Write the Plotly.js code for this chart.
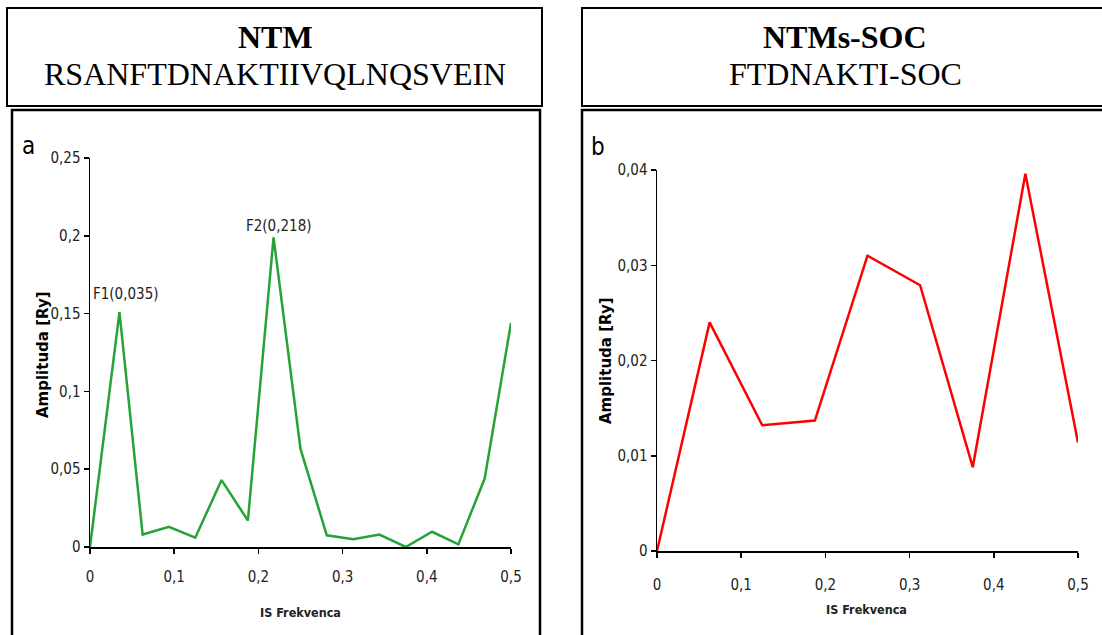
<!DOCTYPE html>
<html>
<head>
<meta charset="utf-8">
<script src="https://cdn.plot.ly/plotly-3.0.1.min.js"></script>
<style>
  html, body { margin: 0; padding: 0; background: #fff; }
  #chart { width: 1102px; height: 635px; }
</style>
</head>
<body>
<div id="chart"></div>
<script>
// Panel a: NTM spectrum
const freqA = [0, 0.035, 0.0625, 0.09375, 0.125, 0.15625, 0.1875, 0.218, 0.25,
               0.28125, 0.3125, 0.34375, 0.375, 0.40625, 0.4375, 0.46875, 0.5];
const ampA  = [0, 0.151, 0.008, 0.013, 0.006, 0.043, 0.017, 0.199, 0.063,
               0.0075, 0.005, 0.008, 0.0, 0.0098, 0.0017, 0.044, 0.144];

// Panel b: NTMs-SOC spectrum
const freqB = [0, 0.0625, 0.125, 0.1875, 0.25, 0.3125, 0.375, 0.4375, 0.5];
const ampB  = [0, 0.024, 0.0132, 0.0137, 0.031, 0.0279, 0.0088, 0.0396, 0.0114];

// Labelled peaks of panel a (index into freqA/ampA)
const peakNames = ['F1', 'F2'];
const peakIndex = [1, 7];

// Header texts
const headA = ['NTM', 'RSANFTDNAKTIIVQLNQSVEIN'];
const headB = ['NTMs-SOC', 'FTDNAKTI-SOC'];
const panelLetters = ['a', 'b'];
const yTitle = 'Amplituda [Ry]';
const xTitle = 'IS Frekvenca';

const W = 1102, H = 635;
const px = v => v / W;          // pixel x -> paper
const py = v => 1 - v / H;      // pixel y -> paper

const narrow = 'DejaVu Sans Condensed, Liberation Sans Narrow, sans-serif';
const serif = 'Liberation Serif, Times New Roman, serif';
const tickFont = { family: narrow, size: 15, color: '#222' };
const fmt = v => String(v).replace('.', ',');

function axisX(domain, anchor, standoff) {
  return {
    domain: domain, anchor: anchor, range: [0, 0.5], dtick: 0.1, tick0: 0,
    showgrid: false, zeroline: false, showline: true, linecolor: '#000', linewidth: 1.5,
    ticks: 'outside', ticklen: 5, tickwidth: 1.5, tickcolor: '#000',
    tickfont: tickFont, ticklabelstandoff: standoff, fixedrange: true
  };
}
function axisY(domain, anchor, range, dtick) {
  return {
    domain: domain, anchor: anchor, range: range, dtick: dtick, tick0: 0,
    showgrid: false, zeroline: false, showline: true, linecolor: '#000', linewidth: 1.5,
    ticks: 'outside', ticklen: 5, tickwidth: 1.5, tickcolor: '#000',
    tickfont: tickFont, ticklabelstandoff: 0, fixedrange: true
  };
}

const traces = [
  { x: freqA, y: ampA, xaxis: 'x', yaxis: 'y', type: 'scatter', mode: 'lines',
    line: { color: '#26a336', width: 2.5 }, cliponaxis: false, hoverinfo: 'skip' },
  { x: freqB, y: ampB, xaxis: 'x2', yaxis: 'y2', type: 'scatter', mode: 'lines',
    line: { color: '#ff0000', width: 2.5 }, cliponaxis: false, hoverinfo: 'skip' }
];

const boxLine = { color: '#000', width: 2 };
const shapes = [
  // header boxes
  { type: 'rect', xref: 'paper', yref: 'paper', x0: px(7), x1: px(542), y0: py(106), y1: py(8), line: boxLine },
  { type: 'rect', xref: 'paper', yref: 'paper', x0: px(582), x1: px(1112), y0: py(106), y1: py(8), line: boxLine },
  // chart frames
  { type: 'rect', xref: 'paper', yref: 'paper', x0: px(12), x1: px(540), y0: py(650), y1: py(110), line: { color: '#000', width: 2.5 } },
  { type: 'rect', xref: 'paper', yref: 'paper', x0: px(582), x1: px(1112), y0: py(650), y1: py(110), line: { color: '#000', width: 2.5 } }
];

function label(x, y, text, font, extra) {
  return Object.assign({ xref: 'paper', yref: 'paper', x: px(x), y: py(y), text: text,
    showarrow: false, xanchor: 'center', yanchor: 'middle', font: font }, extra || {});
}

const headFont = { family: serif, size: 32, color: '#000' };
const letterFont = { family: narrow, size: 24, color: '#000' };
const yTitleFont = { family: 'DejaVu Sans, sans-serif', size: 15, color: '#000' };
const xTitleFont = { family: narrow, size: 12.5, color: '#222' };

const annotations = [
  label(275, 37, '<b>' + headA[0] + '</b>', headFont),
  label(275, 74, headA[1], headFont),
  label(845, 37, '<b>' + headB[0] + '</b>', headFont),
  label(845, 74, headB[1], headFont),
  label(28, 146, panelLetters[0], letterFont),
  label(598, 147, panelLetters[1], letterFont),
  label(43, 355, '<b>' + yTitle + '</b>', yTitleFont, { textangle: -90 }),
  label(606, 361, '<b>' + yTitle + '</b>', yTitleFont, { textangle: -90 }),
  label(300, 612, '<b>' + xTitle + '</b>', xTitleFont),
  label(866, 609, '<b>' + xTitle + '</b>', xTitleFont)
];

// peak labels built from the peak frequencies
const peakShift = [[7, 18], [5, 11]];
peakIndex.forEach((idx, k) => {
  annotations.push({
    xref: 'x', yref: 'y', x: freqA[idx], y: ampA[idx],
    text: peakNames[k] + '(' + fmt(freqA[idx]) + ')',
    showarrow: false, xanchor: 'center', yanchor: 'middle',
    xshift: peakShift[k][0], yshift: peakShift[k][1],
    font: { family: narrow, size: 15, color: '#222' }
  });
});

const layout = {
  width: W, height: H,
  margin: { l: 0, r: 0, t: 0, b: 0 },
  paper_bgcolor: '#fff', plot_bgcolor: 'rgba(0,0,0,0)',
  showlegend: false,
  separators: ', ',
  xaxis: axisX([px(90), px(511)], 'y', 10),
  yaxis: axisY([py(547), py(158)], 'x', [0, 0.25], 0.05),
  xaxis2: axisX([px(657), px(1078)], 'y2', 14),
  yaxis2: axisY([py(551), py(170)], 'x2', [0, 0.04], 0.01),
  shapes: shapes,
  annotations: annotations
};

Plotly.newPlot('chart', traces, layout, { displayModeBar: false, staticPlot: true });
</script>
</body>
</html>
